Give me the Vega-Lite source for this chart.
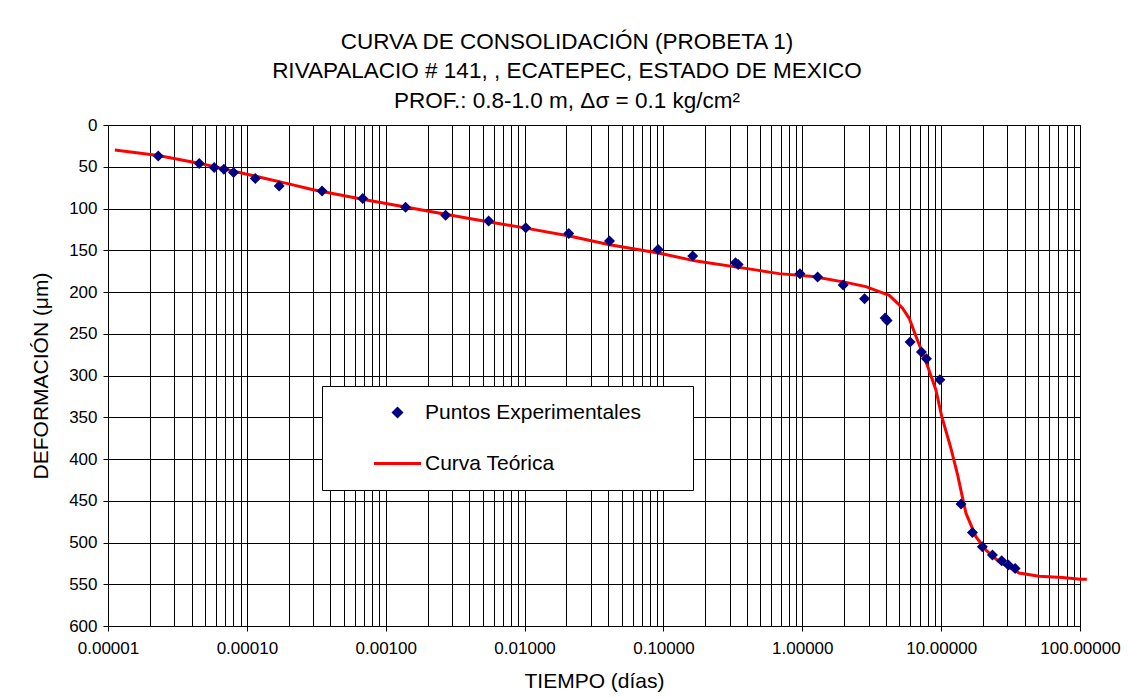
{
  "$schema": "https://vega.github.io/schema/vega-lite/v6.json",
  "width": 972,
  "height": 501,
  "autosize": {"type": "none"},
  "padding": {"left": 108, "top": 125, "right": 48, "bottom": 72},
  "background": "white",
  "title": {
    "text": ["CURVA DE CONSOLIDACIÓN (PROBETA 1)", "RIVAPALACIO # 141, , ECATEPEC, ESTADO DE MEXICO", "PROF.: 0.8-1.0 m, Δσ = 0.1 kg/cm²"],
    "font": "Liberation Sans",
    "fontSize": 22.5,
    "fontWeight": "normal",
    "color": "#000000",
    "lineHeight": 29.5,
    "anchor": "middle",
    "frame": "group",
    "dx": -27,
    "offset": 4
  },
  "config": {
    "font": "Liberation Sans",
    "view": {"stroke": "#808080", "strokeWidth": 1}
  },
  "datasets": {
    "teorica": [
      {"t": 0.0000112, "d": 30, "serie": "Curva Teórica"},
      {"t": 0.000023, "d": 36.5, "serie": "Curva Teórica"},
      {"t": 0.000046, "d": 46, "serie": "Curva Teórica"},
      {"t": 0.0001, "d": 59, "serie": "Curva Teórica"},
      {"t": 0.0002, "d": 70.5, "serie": "Curva Teórica"},
      {"t": 0.0003, "d": 77.5, "serie": "Curva Teórica"},
      {"t": 0.00068, "d": 89, "serie": "Curva Teórica"},
      {"t": 0.002, "d": 103, "serie": "Curva Teórica"},
      {"t": 0.004, "d": 112, "serie": "Curva Teórica"},
      {"t": 0.0102, "d": 123.5, "serie": "Curva Teórica"},
      {"t": 0.021, "d": 133, "serie": "Curva Teórica"},
      {"t": 0.041, "d": 143.5, "serie": "Curva Teórica"},
      {"t": 0.094, "d": 153.5, "serie": "Curva Teórica"},
      {"t": 0.172, "d": 163, "serie": "Curva Teórica"},
      {"t": 0.46, "d": 173.5, "serie": "Curva Teórica"},
      {"t": 0.68, "d": 178, "serie": "Curva Teórica"},
      {"t": 1.19, "d": 181.5, "serie": "Curva Teórica"},
      {"t": 2.06, "d": 188.5, "serie": "Curva Teórica"},
      {"t": 2.87, "d": 193.5, "serie": "Curva Teórica"},
      {"t": 3.58, "d": 199.5, "serie": "Curva Teórica"},
      {"t": 4.23, "d": 204, "serie": "Curva Teórica"},
      {"t": 4.72, "d": 211.5, "serie": "Curva Teórica"},
      {"t": 5.27, "d": 219.5, "serie": "Curva Teórica"},
      {"t": 5.89, "d": 231.5, "serie": "Curva Teórica"},
      {"t": 6.58, "d": 253, "serie": "Curva Teórica"},
      {"t": 7.76, "d": 283, "serie": "Curva Teórica"},
      {"t": 9.16, "d": 317, "serie": "Curva Teórica"},
      {"t": 10.1, "d": 349, "serie": "Curva Teórica"},
      {"t": 11.75, "d": 387, "serie": "Curva Teórica"},
      {"t": 13.1, "d": 418, "serie": "Curva Teórica"},
      {"t": 14.2, "d": 445, "serie": "Curva Teórica"},
      {"t": 15.1, "d": 465, "serie": "Curva Teórica"},
      {"t": 17.8, "d": 493, "serie": "Curva Teórica"},
      {"t": 21.0, "d": 509, "serie": "Curva Teórica"},
      {"t": 26.1, "d": 523, "serie": "Curva Teórica"},
      {"t": 36.4, "d": 536.5, "serie": "Curva Teórica"},
      {"t": 50.7, "d": 540.5, "serie": "Curva Teórica"},
      {"t": 74.6, "d": 542, "serie": "Curva Teórica"},
      {"t": 100, "d": 544, "serie": "Curva Teórica"},
      {"t": 112, "d": 544, "serie": "Curva Teórica"}
    ],
    "experimental": [
      {"t": 0.000023, "d": 37, "serie": "Puntos Experimentales"},
      {"t": 0.0000454, "d": 46, "serie": "Puntos Experimentales"},
      {"t": 0.0000582, "d": 51, "serie": "Puntos Experimentales"},
      {"t": 0.0000683, "d": 53, "serie": "Puntos Experimentales"},
      {"t": 0.0000802, "d": 57, "serie": "Puntos Experimentales"},
      {"t": 0.000115, "d": 64, "serie": "Puntos Experimentales"},
      {"t": 0.000171, "d": 73, "serie": "Puntos Experimentales"},
      {"t": 0.000348, "d": 79, "serie": "Puntos Experimentales"},
      {"t": 0.000683, "d": 88, "serie": "Puntos Experimentales"},
      {"t": 0.00139, "d": 98.5, "serie": "Puntos Experimentales"},
      {"t": 0.0027, "d": 108, "serie": "Puntos Experimentales"},
      {"t": 0.00551, "d": 115, "serie": "Puntos Experimentales"},
      {"t": 0.0102, "d": 123, "serie": "Puntos Experimentales"},
      {"t": 0.0208, "d": 130, "serie": "Puntos Experimentales"},
      {"t": 0.0409, "d": 139, "serie": "Puntos Experimentales"},
      {"t": 0.0916, "d": 149, "serie": "Puntos Experimentales"},
      {"t": 0.1625, "d": 157, "serie": "Puntos Experimentales"},
      {"t": 0.33, "d": 165, "serie": "Puntos Experimentales"},
      {"t": 0.345, "d": 167, "serie": "Puntos Experimentales"},
      {"t": 0.962, "d": 178, "serie": "Puntos Experimentales"},
      {"t": 1.29, "d": 182, "serie": "Puntos Experimentales"},
      {"t": 1.97, "d": 191.5, "serie": "Puntos Experimentales"},
      {"t": 2.81, "d": 208, "serie": "Puntos Experimentales"},
      {"t": 3.95, "d": 231, "serie": "Puntos Experimentales"},
      {"t": 4.08, "d": 234, "serie": "Puntos Experimentales"},
      {"t": 5.98, "d": 260, "serie": "Puntos Experimentales"},
      {"t": 7.21, "d": 272, "serie": "Puntos Experimentales"},
      {"t": 7.84, "d": 280, "serie": "Puntos Experimentales"},
      {"t": 9.79, "d": 305, "serie": "Puntos Experimentales"},
      {"t": 13.9, "d": 454, "serie": "Puntos Experimentales"},
      {"t": 16.8, "d": 488, "serie": "Puntos Experimentales"},
      {"t": 19.8, "d": 505, "serie": "Puntos Experimentales"},
      {"t": 23.4, "d": 515, "serie": "Puntos Experimentales"},
      {"t": 27.3, "d": 522, "serie": "Puntos Experimentales"},
      {"t": 30.5, "d": 527, "serie": "Puntos Experimentales"},
      {"t": 34.1, "d": 531, "serie": "Puntos Experimentales"}
    ]
  },
  "encoding": {
    "x": {
      "field": "t",
      "type": "quantitative",
      "scale": {"type": "log", "domain": [0.00001, 100], "nice": false},
      "axis": {
        "values": [0.00001, 0.00002, 0.00003, 0.00004, 0.00005, 0.00006, 0.00007, 0.00008, 0.00009,
                   0.0001, 0.0002, 0.0003, 0.0004, 0.0005, 0.0006, 0.0007, 0.0008, 0.0009,
                   0.001, 0.002, 0.003, 0.004, 0.005, 0.006, 0.007, 0.008, 0.009,
                   0.01, 0.02, 0.03, 0.04, 0.05, 0.06, 0.07, 0.08, 0.09,
                   0.1, 0.2, 0.3, 0.4, 0.5, 0.6, 0.7, 0.8, 0.9,
                   1, 2, 3, 4, 5, 6, 7, 8, 9,
                   10, 20, 30, 40, 50, 60, 70, 80, 90, 100],
        "labelExpr": "abs(log(datum.value)/LN10 - round(log(datum.value)/LN10)) < 0.001 ? format(datum.value, '.5f') : ''",
        "labelFont": "Liberation Sans",
        "labelFontSize": 17,
        "labelColor": "#000000",
        "labelOverlap": false,
        "labelFlush": false,
        "labelBound": false,
        "labelPadding": 9,
        "tickColor": "#000000",
        "tickSize": 5,
        "tickOpacity": {"condition": {"test": "abs(log(datum.value)/LN10 - round(log(datum.value)/LN10)) < 0.001", "value": 1}, "value": 0},
        "grid": true,
        "gridColor": "#000000",
        "gridOpacity": 1,
        "gridWidth": 1,
        "domainColor": "#000000",
        "title": "TIEMPO (días)",
        "titleFont": "Liberation Sans",
        "titleFontSize": 21,
        "titleFontWeight": "normal",
        "titleColor": "#000000",
        "titlePadding": 14
      }
    },
    "y": {
      "field": "d",
      "type": "quantitative",
      "scale": {"domain": [0, 600], "reverse": true, "nice": false},
      "axis": {
        "values": [0, 50, 100, 150, 200, 250, 300, 350, 400, 450, 500, 550, 600],
        "labelFont": "Liberation Sans",
        "labelFontSize": 17,
        "labelColor": "#000000",
        "labelPadding": 6,
        "tickColor": "#000000",
        "tickSize": 5,
        "grid": true,
        "gridColor": "#000000",
        "gridOpacity": 1,
        "gridWidth": 1,
        "domainColor": "#000000",
        "title": "DEFORMACIÓN (μm)",
        "titleFont": "Liberation Sans",
        "titleFontSize": 21,
        "titleFontWeight": "normal",
        "titleColor": "#000000",
        "titlePadding": 17
      }
    },
    "color": {
      "field": "serie",
      "type": "nominal",
      "scale": {"domain": ["Puntos Experimentales", "Curva Teórica"], "range": ["#000080", "#FF0000"]},
      "legend": {
        "orient": "none",
        "legendX": 214,
        "legendY": 261,
        "direction": "vertical",
        "title": "X",
        "titleOrient": "right",
        "titlePadding": 21,
        "titleColor": "transparent",
        "titleFont": "Liberation Sans",
        "titleFontSize": 21,
        "fillColor": "#FFFFFF",
        "strokeColor": "#000000",
        "padding": 16,
        "rowPadding": 29,
        "labelFont": "Liberation Sans",
        "labelFontSize": 21,
        "labelColor": "#000000",
        "labelOffset": 17,
        "symbolOffset": 49,
        "labelLimit": 500,
        "symbolSize": 2209,
        "symbolStrokeWidth": 3,
        "encode": {
          "symbols": {
            "update": {
              "shape": {"signal": "(datum.value === 'Curva Teórica' ? 'stroke' : 'diamond')"},
              "size": {"signal": "(datum.value === 'Curva Teórica' ? 2209 : 144)"},
              "strokeWidth": {"signal": "(datum.value === 'Curva Teórica' ? 3 : 0)"},
              "fill": {"signal": "(datum.value === 'Curva Teórica' ? 'transparent' : '#000080')"},
              "stroke": {"signal": "(datum.value === 'Curva Teórica' ? '#FF0000' : 'transparent')"},
              "opacity": {"value": 1}
            }
          }
        }
      }
    }
  },
  "layer": [
    {
      "data": {"name": "teorica"},
      "mark": {"type": "line", "strokeWidth": 3, "clip": false}
    },
    {
      "data": {"name": "experimental"},
      "mark": {"type": "point", "shape": "diamond", "filled": true, "opacity": 1, "size": 121}
    }
  ]
}
